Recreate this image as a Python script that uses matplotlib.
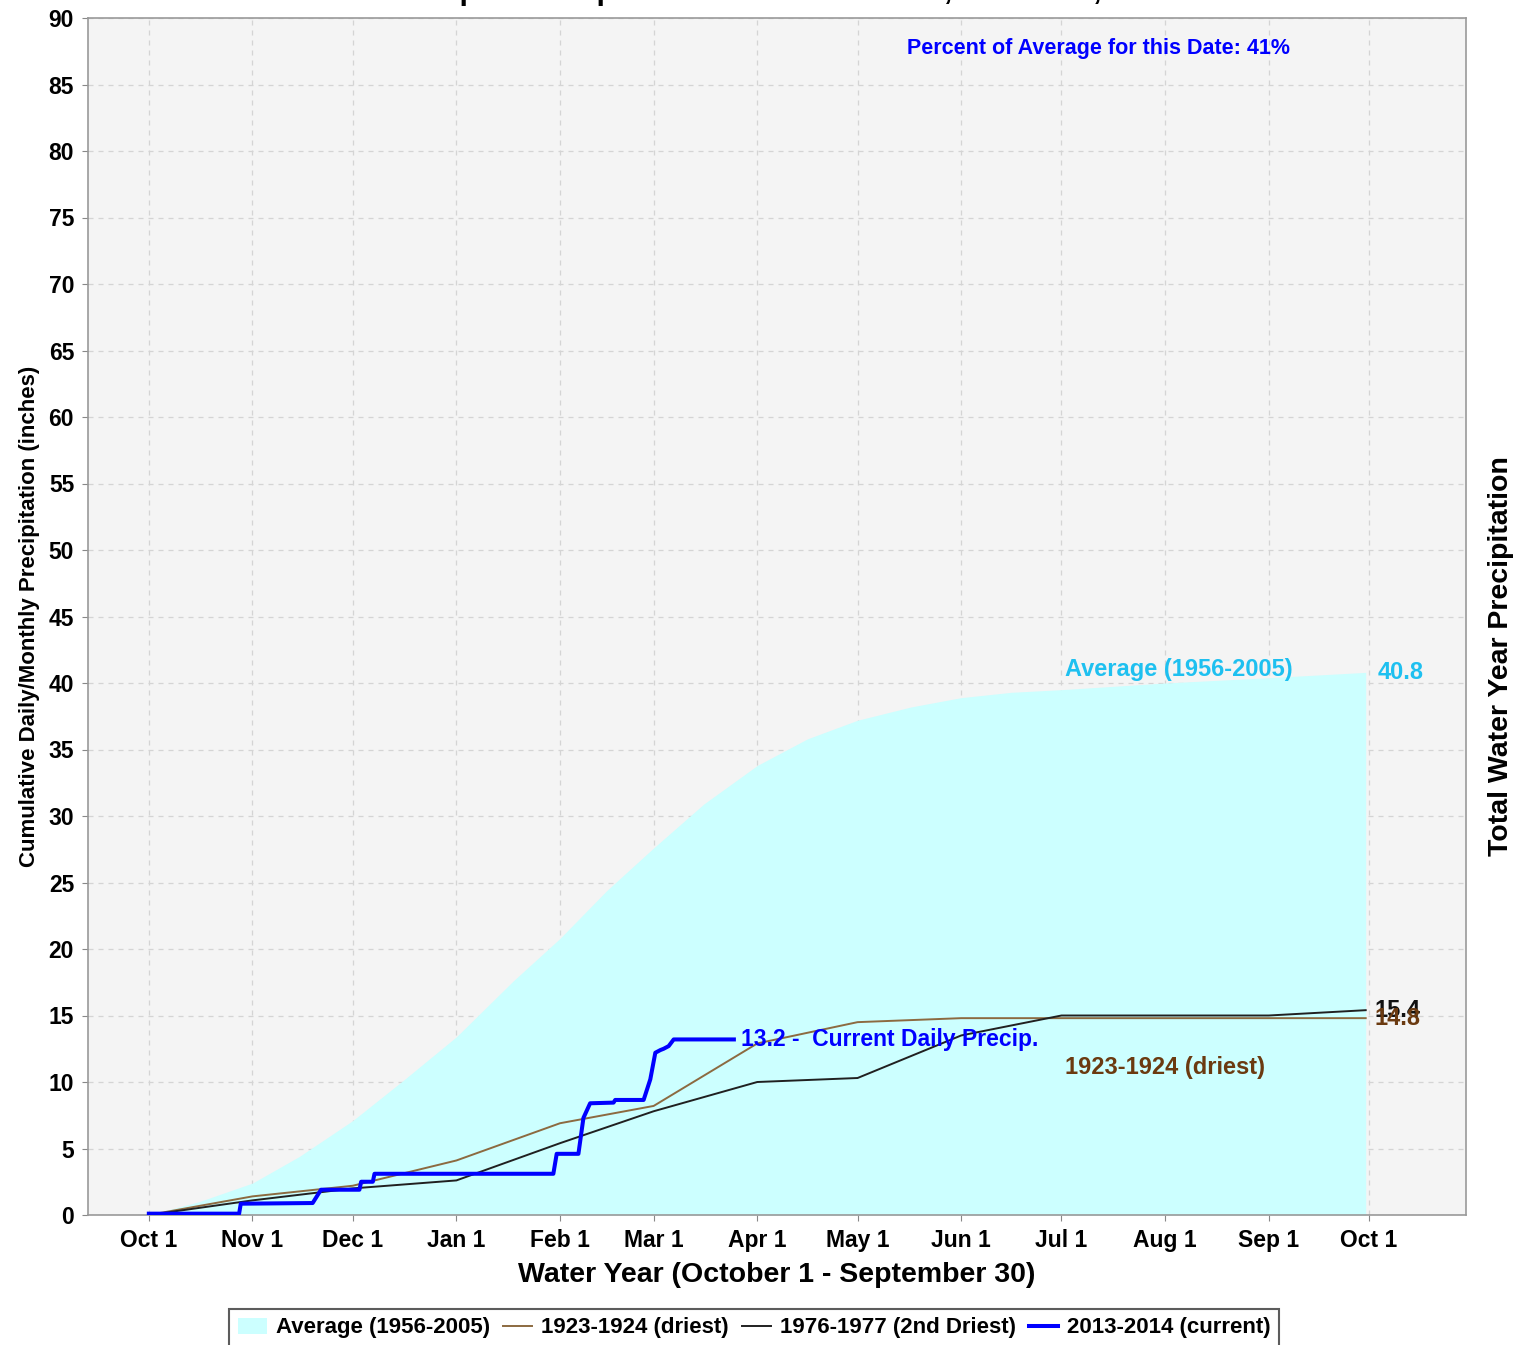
# San Joaquin 5-station precipitation index, water year 2013-2014
import numpy as np
import matplotlib.pyplot as plt

plt.rcParams['font.family'] = ['Liberation Sans', 'DejaVu Sans']
plt.rcParams['font.weight'] = 'bold'

# days since Oct 1 for the month ticks
tick_days = [0, 31, 61, 92, 123, 151, 182, 212, 243, 273, 304, 335, 365]
tick_labels = ['Oct 1', 'Nov 1', 'Dec 1', 'Jan 1', 'Feb 1', 'Mar 1', 'Apr 1',
               'May 1', 'Jun 1', 'Jul 1', 'Aug 1', 'Sep 1', 'Oct 1']

# average (1956-2005), cumulative inches
avg_days = [0, 15, 31, 45, 61, 76, 92, 109, 123, 137, 151, 166, 182, 197, 212, 228, 243, 258, 273, 304, 335, 364]
avg_vals = [0, 1.0, 2.4, 4.4, 7.1, 10.1, 13.4, 17.6, 20.8, 24.4, 27.6, 30.9, 33.8, 35.8, 37.2, 38.2, 38.9, 39.3, 39.5, 40.0, 40.4, 40.8]

# 1923-1924 (driest), monthly
driest_days = [0, 31, 61, 92, 123, 151, 182, 212, 243, 273, 304, 335, 364]
driest_vals = [0, 1.4, 2.2, 4.1, 6.9, 8.2, 12.9, 14.5, 14.8, 14.8, 14.8, 14.8, 14.8]

# 1976-1977 (2nd driest), monthly
second_days = [0, 31, 61, 92, 123, 151, 182, 212, 243, 273, 304, 335, 364]
second_vals = [0, 1.1, 2.0, 2.6, 5.4, 7.8, 10.0, 10.3, 13.5, 15.0, 15.0, 15.0, 15.4]

# 2013-2014 (current), daily steps
cur_days = [0, 27, 27.5, 49, 51.5, 63, 63.5, 67, 67.5, 121, 122, 128.5, 130, 132, 139, 139.5,
            148, 150, 151.5, 153, 154, 155.5, 157, 175]
cur_vals = [0.1, 0.1, 0.85, 0.9, 1.9, 1.9, 2.5, 2.5, 3.1, 3.1, 4.6, 4.6, 7.3, 8.4, 8.45, 8.65,
            8.65, 10.2, 12.2, 12.4, 12.5, 12.7, 13.2, 13.2]

fig = plt.figure(figsize=(15.16, 13.45), dpi=100)
ax = fig.add_axes([88/1516, 130/1345, 1378/1516, 1197/1345])
ax.set_facecolor('#f4f4f4')

ax.fill_between(avg_days, avg_vals, color='#ccffff', lw=0, label='Average (1956-2005)', zorder=2)
ax.plot(driest_days, driest_vals, color='#8c6a40', lw=1.4, label='1923-1924 (driest)', zorder=3)
ax.plot(second_days, second_vals, color='#202020', lw=1.4, label='1976-1977 (2nd Driest)', zorder=3)
ax.plot(cur_days, cur_vals, color='#0000ff', lw=2.9, label='2013-2014 (current)', zorder=4)

ax.set_xlim(-18.2, 394)
ax.set_ylim(0, 90)
ax.set_xticks(tick_days)
ax.set_xticklabels(tick_labels)
ax.set_yticks(np.arange(0, 91, 5))
ax.tick_params(labelsize=16.5, length=4, color='#888888', pad=6)
for lab in ax.get_xticklabels() + ax.get_yticklabels():
    lab.set_fontweight('bold')
ax.grid(True, color='#d4d4d4', ls=(0, (4, 4)), lw=0.9, zorder=1)
ax.set_axisbelow(True)
for s in ax.spines.values():
    s.set_color('#999999')
    s.set_linewidth(1.2)

ax.set_xlabel('Water Year (October 1 - September 30)', fontsize=20.5, fontweight='bold', labelpad=7)
ax.set_ylabel('Cumulative Daily/Monthly Precipitation (inches)', fontsize=16, fontweight='bold', labelpad=6)
fig.text(1501/1516, 1 - 656/1345, 'Total Water Year Precipitation', rotation=90, ha='center', va='center',
         fontsize=20.5, fontweight='bold')

# title (top partly cut off in the original)
fig.text(0.498, 1 - 6/1345, 'San Joaquin Precipitation: 5-Station Index, March 26, 2014',
         ha='center', va='bottom', fontsize=22, fontweight='bold')

# annotations
ax.text(0.733, 0.9745, 'Percent of Average for this Date: 41%', transform=ax.transAxes, ha='center', va='center',
        color='#0000ff', fontsize=15.5, fontweight='bold')
ax.text(274, 41.0, 'Average (1956-2005)', color='#1ec0f0', fontsize=17, fontweight='bold', va='center', ha='left')
ax.text(367.5, 40.8, '40.8', color='#1ec0f0', fontsize=17, fontweight='bold', va='center', ha='left')
ax.text(366.5, 15.4, '15.4', color='#111111', fontsize=17, fontweight='bold', va='center', ha='left')
ax.text(366.5, 14.8, '14.8', color='#6b3a10', fontsize=17, fontweight='bold', va='center', ha='left')
ax.text(274, 11.1, '1923-1924 (driest)', color='#6b3a10', fontsize=17, fontweight='bold', va='center', ha='left')
ax.text(177, 13.2, '13.2 -  Current Daily Precip.', color='#0000ff', fontsize=16.5, fontweight='bold',
        va='center', ha='left')

leg = fig.legend(loc='center', bbox_to_anchor=(754/1516, 1 - 1328/1345), ncol=4, fontsize=16,
                 frameon=True, fancybox=False, handlelength=1.3, handletextpad=0.4, columnspacing=0.6,
                 borderpad=0.4)
leg.get_frame().set_edgecolor('#333333')
leg.get_frame().set_linewidth(1.5)
for t in leg.get_texts():
    t.set_fontweight('bold')

fig.savefig('out.png', dpi=100)
